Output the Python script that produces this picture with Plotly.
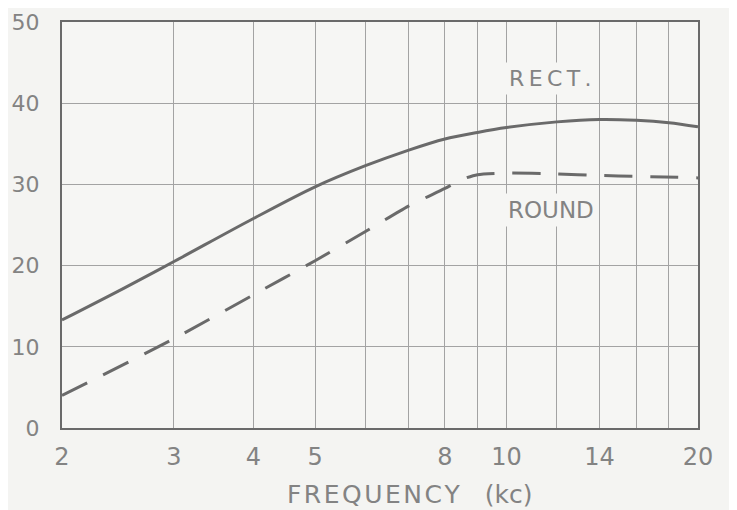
import math
import plotly.graph_objects as go

# Data
rect_freq = [2, 2.5, 3, 4, 5, 6, 7, 8, 9, 10, 12, 14, 16, 18, 20]
rect_val = [13.3, 17.2, 20.5, 25.8, 29.7, 32.3, 34.2, 35.6, 36.4, 37.0, 37.7, 38.0, 37.9, 37.6, 37.1]

round_freq = [2, 3, 4, 5, 6, 7, 8, 8.5, 9, 10, 12, 14, 16, 20]
round_val = [4.0, 11.0, 16.4, 20.6, 24.2, 27.3, 29.5, 30.6, 31.2, 31.4, 31.3, 31.1, 31.0, 30.8]

x_grid = [2, 3, 4, 5, 6, 7, 8, 9, 10, 12, 14, 16, 18, 20]
x_labels = ["2", "3", "4", "5", "", "", "8", "", "10", "", "14", "", "", "20"]
y_grid = [0, 10, 20, 30, 40, 50]
y_labels = ["0", "10", "20", "30", "40", "50"]

ink = "#6a6a6a"
grid = "#a3a3a3"
txt = "#838383"
plot_bg = "#f6f6f4"
ts = "\u2009"  # thin space
hs = "\u200a"  # hair space

fig = go.Figure()
fig.add_trace(go.Scatter(x=rect_freq, y=rect_val, mode="lines",
                         line=dict(color=ink, width=3, shape="spline", smoothing=0.9),
                         showlegend=False, hoverinfo="skip"))
fig.add_trace(go.Scatter(x=round_freq, y=round_val, mode="lines",
                         line=dict(color=ink, width=3, dash="28px,18px", shape="spline", smoothing=0.6),
                         showlegend=False, hoverinfo="skip"))

fig.add_annotation(x=math.log10(11.74), y=43.1, xref="x", yref="y", text=ts.join("RECT."),
                   showarrow=False, bgcolor=plot_bg, borderpad=3,
                   font=dict(family="DejaVu Sans", size=22, color=txt))
fig.add_annotation(x=math.log10(11.74), y=26.8, xref="x", yref="y", text="ROUND",
                   showarrow=False, bgcolor=plot_bg, borderpad=3,
                   font=dict(family="DejaVu Sans", size=23, color=txt))
# axis title (placed as in the original drawing, slightly right of centre)
fig.add_annotation(x=0.547, y=-0.165, xref="paper", yref="paper",
                   xanchor="center", yanchor="middle", showarrow=False,
                   text=hs.join("FREQUENCY") + "\u2003" + "(kc)",
                   font=dict(family="DejaVu Sans", size=25, color=txt))

fig.update_xaxes(type="log", range=[math.log10(2), math.log10(20)],
                 tickmode="array", tickvals=x_grid, ticktext=x_labels,
                 showgrid=True, gridcolor=grid, gridwidth=1,
                 showline=True, linecolor=ink, linewidth=2, mirror=True,
                 ticks="", ticklabelstandoff=6, zeroline=False, automargin=False,
                 ticklabeloverflow="allow",
                 tickfont=dict(family="DejaVu Sans", size=24, color=txt))
fig.update_yaxes(range=[0, 50], tickmode="array", tickvals=y_grid, ticktext=y_labels,
                 showgrid=True, gridcolor=grid, gridwidth=1,
                 showline=True, linecolor=ink, linewidth=2, mirror=True,
                 ticks="", ticklabelstandoff=16, zeroline=False, automargin=False,
                 ticklabeloverflow="allow",
                 tickfont=dict(family="DejaVu Sans", size=22, color=txt))

fig.update_layout(width=729, height=502,
                  margin=dict(l=54, r=39, t=14, b=82),
                  paper_bgcolor="#f4f4f2", plot_bgcolor=plot_bg,
                  showlegend=False)

fig.write_html("out.html")
